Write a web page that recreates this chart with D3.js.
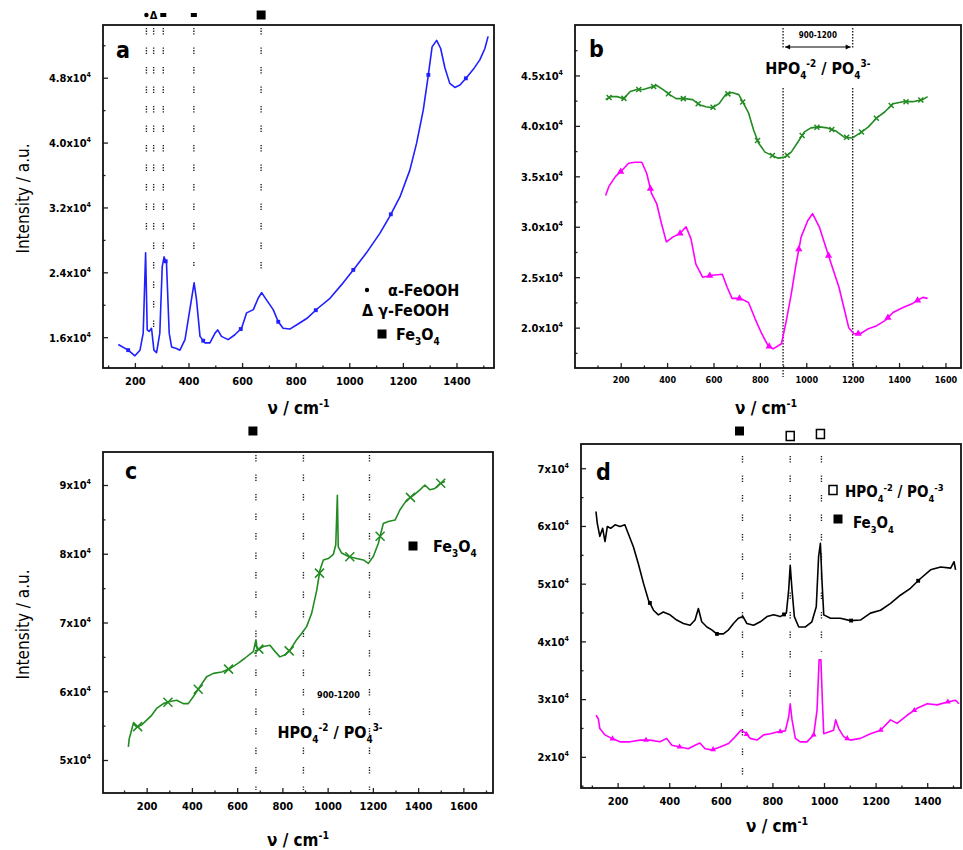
<!DOCTYPE html>
<html>
<head>
<meta charset="utf-8">
<script src="https://cdn.jsdelivr.net/npm/d3@7"></script>
<style>
body { margin: 0; background: #fff; }
text { font-family: "DejaVu Sans Condensed", "Liberation Sans Narrow", "DejaVu Sans", sans-serif; font-weight: bold; fill: #000; }
</style>
</head>
<body>
<svg id="fig" width="963" height="850"></svg>
<script>
// spectra as [wavenumber, intensity]
var specA = [[138,1.51],[175,1.44],[200,1.37],[219,1.44],[231,1.65],[240,2.64],[246,1.69],[253,1.67],[262,1.71],[271,1.44],
  [281,1.41],[293,1.65],[302,2.47],[309,2.59],[318,2.51],[328,1.65],[337,1.48],[355,1.46],[368,1.44],[387,1.57],[405,1.94],
  [421,2.27],[430,2.06],[443,1.61],[461,1.53],[480,1.53],[499,1.65],[509,1.69],[523,1.61],[548,1.57],[573,1.63],[598,1.71],
  [617,1.90],[642,1.94],[660,2.08],[673,2.15],[691,2.06],[716,1.94],[735,1.79],[753,1.71],[778,1.70],[803,1.75],[841,1.83],
  [884,1.96],[928,2.08],[977,2.27],[1015,2.43],[1064,2.64],[1114,2.88],[1151,3.09],[1189,3.33],[1226,3.66],[1251,3.99],
  [1276,4.40],[1294,4.81],[1309,5.18],[1326,5.26],[1341,5.16],[1357,4.92],[1375,4.73],[1394,4.68],[1413,4.71],[1437,4.80],
  [1462,4.90],[1487,5.02],[1506,5.16],[1518,5.31]];

var specBgreen = [[135,4.26],[156,4.29],[185,4.29],[213,4.27],[241,4.34],[270,4.36],[298,4.36],[326,4.38],[355,4.40],[383,4.36],
  [411,4.31],[439,4.27],[475,4.27],[510,4.26],[539,4.21],[567,4.19],[595,4.18],[624,4.22],[652,4.31],[680,4.33],[709,4.31],
  [730,4.22],[751,4.13],[773,3.96],[794,3.83],[822,3.74],[850,3.71],[879,3.68],[907,3.69],[935,3.74],[964,3.84],[992,3.94],
  [1020,3.98],[1056,3.99],[1091,3.98],[1127,3.95],[1162,3.89],[1198,3.88],[1233,3.93],[1268,3.99],[1304,4.08],[1339,4.14],
  [1374,4.22],[1417,4.24],[1459,4.24],[1502,4.26],[1523,4.29]];

var specBmagenta = [[135,3.31],[149,3.40],[178,3.50],[206,3.56],[234,3.63],[262,3.64],[291,3.64],[312,3.53],[333,3.33],[355,3.23],
  [376,3.03],[397,2.85],[426,2.90],[454,2.93],[482,3.00],[503,2.88],[524,2.63],[553,2.50],[595,2.52],[638,2.53],[659,2.40],
  [680,2.29],[716,2.29],[751,2.25],[779,2.09],[808,1.94],[836,1.82],[857,1.79],[893,1.84],[914,2.07],[935,2.33],[956,2.63],
  [978,2.90],[1006,3.06],[1027,3.13],[1056,3.00],[1084,2.80],[1112,2.60],[1141,2.40],[1162,2.20],[1183,2.00],[1205,1.94],
  [1233,1.94],[1268,1.99],[1304,2.02],[1339,2.07],[1374,2.15],[1417,2.20],[1459,2.24],[1502,2.30],[1523,2.29]];

var specC = [[119,5.19],[123,5.31],[141,5.53],[156,5.48],[178,5.51],[200,5.58],[222,5.65],[244,5.75],[274,5.82],[303,5.85],
  [333,5.87],[362,5.82],[384,5.82],[406,5.92],[436,6.07],[465,6.21],[495,6.26],[532,6.28],[568,6.33],[605,6.41],[634,6.48],
  [672,6.58],[683,6.75],[689,6.60],[716,6.65],[745,6.67],[767,6.58],[789,6.50],[812,6.53],[834,6.60],[863,6.75],[885,6.84],
  [907,6.94],[929,7.13],[952,7.47],[966,7.76],[981,7.91],[1003,7.93],[1025,7.99],[1036,8.13],[1043,8.85],[1047,8.10],
  [1062,8.01],[1092,7.96],[1128,7.93],[1158,7.91],[1180,7.86],[1202,7.96],[1224,8.15],[1246,8.44],[1268,8.47],[1298,8.49],
  [1320,8.64],[1349,8.78],[1379,8.85],[1408,8.93],[1430,9.00],[1452,8.93],[1474,8.95],[1497,9.02],[1519,9.05]];

var specDblack = [[116,6.25],[121,6.05],[131,5.82],[142,5.96],[151,5.73],[160,5.99],[173,5.96],[190,6.02],[209,5.99],[228,6.02],
  [241,5.87],[261,5.64],[280,5.35],[300,5.01],[319,4.72],[339,4.54],[358,4.46],[377,4.51],[403,4.46],[429,4.37],[455,4.31],
  [481,4.28],[500,4.37],[513,4.57],[526,4.34],[546,4.25],[565,4.20],[584,4.13],[610,4.13],[630,4.20],[649,4.31],[668,4.40],
  [686,4.43],[701,4.31],[727,4.28],[753,4.34],[779,4.43],[805,4.46],[830,4.43],[854,4.49],[863,4.89],[869,5.32],[876,4.89],
  [885,4.43],[902,4.25],[928,4.25],[953,4.34],[970,4.60],[979,5.47],[986,5.70],[992,5.06],[999,4.46],[1025,4.40],[1063,4.40],
  [1102,4.36],[1141,4.37],[1180,4.49],[1219,4.54],[1258,4.66],[1296,4.80],[1335,4.92],[1374,5.09],[1413,5.24],[1452,5.29],
  [1491,5.27],[1504,5.38],[1510,5.24]];

var specDmagenta = [[116,2.72],[125,2.66],[131,2.49],[151,2.38],[177,2.32],[209,2.26],[248,2.26],[287,2.29],[326,2.29],[364,2.26],
  [390,2.32],[410,2.20],[442,2.17],[474,2.14],[500,2.20],[519,2.24],[539,2.14],[565,2.12],[597,2.17],[630,2.23],[656,2.35],
  [678,2.46],[694,2.42],[714,2.32],[740,2.29],[766,2.38],[792,2.40],[818,2.43],[850,2.45],[863,2.69],[869,2.92],[876,2.64],
  [889,2.32],[908,2.26],[934,2.26],[960,2.38],[973,2.81],[981,3.68],[988,3.68],[994,2.92],[999,2.40],[1018,2.43],[1037,2.46],
  [1045,2.64],[1057,2.49],[1076,2.35],[1102,2.29],[1141,2.32],[1180,2.40],[1219,2.46],[1258,2.64],[1283,2.58],[1322,2.72],
  [1361,2.84],[1400,2.92],[1439,2.90],[1478,2.95],[1510,2.98],[1523,2.92]];

// tick values
var ticksXa = [200, 400, 600, 800, 1000, 1200, 1400];
var ticksXb = [200, 400, 600, 800, 1000, 1200, 1400, 1600];
var ticksYa = [1.6, 2.4, 3.2, 4.0, 4.8];
var ticksYb = [2.0, 2.5, 3.0, 3.5, 4.0, 4.5];
var ticksYc = [5, 6, 7, 8, 9];
var ticksYd = [2, 3, 4, 5, 6, 7];

// assigned bands: [wavenumber, top intensity, bottom intensity, symbol]
var bandsA = [[243, 5.45, 2.80, 'dot'], [270, 5.45, 1.71, 'tri'], [306, 5.45, 2.64, 'bar'], [420, 5.45, 2.47, 'bar'], [671, 5.45, 2.31, 'sq']];
var bandsB = [900, 1200];
var bandsC = [683, 893, 1185];
var bandsD = [[684, 7.42, 1.46, 'sq'], [869, 7.42, 2.85, 'open'], [990, 7.42, 3.82, 'open']];

var svg = d3.select('#fig');

function interp(series, wn) {
    var i = d3.bisector(function (d) { return d[0]; }).left(series, wn);
    if (i <= 0) return series[0][1];
    if (i >= series.length) return series[series.length - 1][1];
    var a = series[i - 1], b = series[i];
    return a[1] + (b[1] - a[1]) * (wn - a[0]) / (b[0] - a[0]);
}

// text with sub / superscripts, parts = [[str, 'sub'|'sup'|null], ...]
function rich(g, x, y, parts, size, anchor) {
    var t = g.append('text').attr('x', x).attr('y', y).attr('font-size', size)
        .attr('text-anchor', anchor || 'start');
    var cur = 0;
    parts.forEach(function (p) {
        var off = p[1] === 'sub' ? size * 0.3 : p[1] === 'sup' ? -size * 0.42 : 0;
        t.append('tspan').attr('dy', off - cur).attr('font-size', p[1] ? size * 0.62 : size).text(p[0]);
        cur = off;
    });
    return t;
}

function panel(cfg) {
    var x = d3.scaleLinear().domain(cfg.xDom).range([cfg.left, cfg.right]);
    var y = d3.scaleLinear().domain(cfg.yDom).range([cfg.bottom, cfg.top]);
    var g = svg.append('g');

    // minor ticks
    var xMinor = d3.range(100, cfg.xDom[1], 100).filter(function (v) { return v > cfg.xDom[0] && cfg.xTicks.indexOf(v) < 0; });
    var yMinor = cfg.yTicks.map(function (v) { return v + cfg.yStep / 2; })
        .concat([cfg.yTicks[0] - cfg.yStep / 2])
        .filter(function (v) { return v > cfg.yDom[0] && v < cfg.yDom[1]; });
    g.append('g').attr('transform', 'translate(0,' + cfg.bottom + ')')
        .call(d3.axisBottom(x).tickValues(xMinor).tickSize(-2.5).tickFormat(''));
    g.append('g').attr('transform', 'translate(' + cfg.left + ',0)')
        .call(d3.axisLeft(y).tickValues(yMinor).tickSize(-2.5).tickFormat(''));

    // major ticks
    var xa = g.append('g').attr('transform', 'translate(0,' + cfg.bottom + ')')
        .call(d3.axisBottom(x).tickValues(cfg.xTicks).tickSize(-5).tickPadding(9).tickFormat(d3.format('d')));
    xa.selectAll('text').attr('font-size', cfg.xFont).attr('font-family', null);
    var ya = g.append('g').attr('transform', 'translate(' + cfg.left + ',0)')
        .call(d3.axisLeft(y).tickValues(cfg.yTicks).tickSize(-5).tickPadding(12).tickFormat(''));
    ya.selectAll('.tick text').each(function (d) {
        var t = d3.select(this).attr('font-size', 11).attr('font-family', null).attr('dy', '0.35em');
        t.append('tspan').text(d3.format(cfg.yFmt)(d) + 'x10');
        t.append('tspan').attr('dy', -5).attr('font-size', 7).text('4');
    });
    g.selectAll('.domain').remove();
    g.selectAll('.tick line').attr('stroke', '#222').attr('stroke-width', 1.3);

    // frame
    g.append('rect').attr('x', cfg.left).attr('y', cfg.top)
        .attr('width', cfg.right - cfg.left).attr('height', cfg.bottom - cfg.top)
        .attr('fill', 'none').attr('stroke', '#111').attr('stroke-width', 1.8);

    // panel letter
    g.append('text').attr('x', cfg.left + cfg.letterDx).attr('y', cfg.top + cfg.letterDy)
        .attr('font-size', 23).text(cfg.letter);

    // axis title
    rich(g, (cfg.left + cfg.right) / 2 + cfg.titleDx, cfg.titleY, [['\u03bd / cm', null], ['-1', 'sup']], 17, 'middle');
    if (cfg.yTitle) {
        g.append('text').attr('transform', 'translate(' + (cfg.left - 74) + ',' + ((cfg.top + cfg.bottom) / 2 + 2) + ') rotate(-90)')
            .attr('text-anchor', 'middle').attr('font-size', 17)
            .style('font-weight', 'normal').text('Intensity / a.u.');
    }
    return { g: g, x: x, y: y };
}

function drawSeries(p, series, color, sym, step, start, size) {
    var line = d3.line().x(function (d) { return p.x(d[0]); }).y(function (d) { return p.y(d[1]); });
    p.g.append('path').datum(series).attr('d', line)
        .attr('fill', 'none').attr('stroke', color).attr('stroke-width', 1.6).attr('stroke-linejoin', 'round');
    var last = series[series.length - 1][0];
    var marks = d3.range(start, last + 1, step).map(function (w) { return [w, interp(series, w)]; });
    var m = p.g.append('g').selectAll('g').data(marks).join('g')
        .attr('transform', function (d) { return 'translate(' + p.x(d[0]) + ',' + p.y(d[1]) + ')'; });
    if (sym === 'x') {
        m.append('path').attr('d', 'M' + (-size) + ',' + (-size) + 'L' + size + ',' + size + 'M' + (-size) + ',' + size + 'L' + size + ',' + (-size))
            .attr('stroke', color).attr('stroke-width', 1.5);
    } else {
        var type = sym === 'tri' ? d3.symbolTriangle : d3.symbolSquare;
        m.append('path').attr('d', d3.symbol().type(type).size(size * size * 2.2)).attr('fill', color);
    }
}

var dots = '1.3,1.3,1.3,1.3,1.3,13';

function bandLine(p, wn, y0, y1, dash) {
    p.g.append('line').attr('x1', p.x(wn)).attr('x2', p.x(wn)).attr('y1', y0).attr('y2', y1)
        .attr('stroke', '#222').attr('stroke-width', 1.4).attr('stroke-dasharray', dash);
}

function topSymbol(g, kind, cx, cy) {
    if (kind === 'dot') g.append('circle').attr('cx', cx).attr('cy', cy).attr('r', 2.2).attr('fill', '#000');
    else if (kind === 'tri') g.append('text').attr('x', cx).attr('y', cy + 4).attr('font-size', 11).attr('text-anchor', 'middle').text('\u0394');
    else if (kind === 'bar') g.append('rect').attr('x', cx - 3).attr('y', cy - 2).attr('width', 6).attr('height', 4).attr('fill', '#000');
    else if (kind === 'sq') g.append('rect').attr('x', cx - 4.5).attr('y', cy - 4.5).attr('width', 9).attr('height', 9).attr('fill', '#000');
    else if (kind === 'open') g.append('rect').attr('x', cx - 4).attr('y', cy - 4.5).attr('width', 8).attr('height', 9)
        .attr('fill', 'none').attr('stroke', '#000').attr('stroke-width', 1.5);
}

// ---- panel a
var pa = panel({ left: 103, right: 494, top: 25, bottom: 368, xDom: [81, 1540], yDom: [1.22, 5.45],
    xTicks: ticksXa, yTicks: ticksYa, yStep: 0.8, yFmt: '.1f', xFont: 11, letter: 'a', letterDx: 13, letterDy: 33,
    titleDx: 0, titleY: 414, yTitle: true });
bandsA.forEach(function (b) {
    bandLine(pa, b[0], pa.y(b[1]) + 3, pa.y(b[2]), dots);
    topSymbol(pa.g, b[3], pa.x(b[0]), 15);
});
drawSeries(pa, specA, '#1f1fff', 'sq', 140, 175, 2.6);
topSymbol(pa.g, 'dot', 367, 290);
topSymbol(pa.g, 'sq', 382, 334);
pa.g.append('text').attr('x', 388).attr('y', 296).attr('font-size', 16).text('\u03b1-FeOOH');
pa.g.append('text').attr('x', 362).attr('y', 316).attr('font-size', 16).text('\u0394 \u03b3-FeOOH');
rich(pa.g, 396, 340, [['Fe', null], ['3', 'sub'], ['O', null], ['4', 'sub']], 16);

// ---- panel b
var pb = panel({ left: 575, right: 961, top: 25, bottom: 368, xDom: [3, 1667], yDom: [1.6, 5.0],
    xTicks: ticksXb, yTicks: ticksYb, yStep: 0.5, yFmt: '.1f', xFont: 9, letter: 'b', letterDx: 14, letterDy: 32,
    titleDx: -2, titleY: 414, yTitle: false });
bandsB.forEach(function (w, i) {
    bandLine(pb, w, 88, i === 0 ? 377 : 368, '1.5,1.5');
    bandLine(pb, w, 28, 49, '1.5,1.5');
});
var bx0 = pb.x(bandsB[0]), bx1 = pb.x(bandsB[1]);
pb.g.append('line').attr('x1', bx0 + 2).attr('x2', bx1 - 2).attr('y1', 47).attr('y2', 47).attr('stroke', '#000').attr('stroke-width', 1.2);
pb.g.append('path').attr('d', 'M' + (bx0 + 2) + ',47l5,-2.5v5z M' + (bx1 - 2) + ',47l-5,-2.5v5z').attr('fill', '#000');
pb.g.append('text').attr('x', (bx0 + bx1) / 2).attr('y', 38).attr('font-size', 8).attr('text-anchor', 'middle').text('900-1200');
rich(pb.g, (bx0 + bx1) / 2, 74, [['HPO', null], ['4', 'sub'], ['-2', 'sup'], [' / PO', null], ['4', 'sub'], ['3-', 'sup']], 16, 'middle');
drawSeries(pb, specBgreen, '#228b22', 'x', 64, 150, 2.5);
drawSeries(pb, specBmagenta, '#ff00ff', 'tri', 128, 200, 3.2);

// ---- panel c
var pc = panel({ left: 103, right: 493, top: 452, bottom: 793, xDom: [7, 1731], yDom: [4.52, 9.48],
    xTicks: ticksXb, yTicks: ticksYc, yStep: 1, yFmt: 'd', xFont: 11, letter: 'c', letterDx: 22, letterDy: 27,
    titleDx: 0, titleY: 846, yTitle: true });
bandsC.forEach(function (w) { bandLine(pc, w, 455, 790, dots); });
topSymbol(pc.g, 'sq', pc.x(bandsC[0]) - 3, 431);
topSymbol(pc.g, 'sq', 413, 546);
rich(pc.g, 433, 552, [['Fe', null], ['3', 'sub'], ['O', null], ['4', 'sub']], 16);
pc.g.append('text').attr('x', (pc.x(bandsC[1]) + pc.x(bandsC[2])) / 2 + 2).attr('y', 698).attr('font-size', 9).attr('text-anchor', 'middle').text('900-1200');
rich(pc.g, 330, 738, [['HPO', null], ['4', 'sub'], ['-2', 'sup'], [' / PO', null], ['4', 'sub'], ['3-', 'sup']], 16, 'middle');
drawSeries(pc, specC, '#228b22', 'x', 134, 160, 4.5);

// ---- panel d
var pd = panel({ left: 581, right: 961, top: 444, bottom: 788, xDom: [58, 1531], yDom: [1.46, 7.42],
    xTicks: ticksXa, yTicks: ticksYd, yStep: 1, yFmt: 'd', xFont: 11, letter: 'd', letterDx: 15, letterDy: 36,
    titleDx: 6, titleY: 832, yTitle: false });
bandsD.forEach(function (b) {
    bandLine(pd, b[0], pd.y(b[1]) + 12, pd.y(b[2]), dots);
});
topSymbol(pd.g, 'sq', pd.x(bandsD[0][0]) - 3, 431);
topSymbol(pd.g, 'open', pd.x(bandsD[1][0]), 436);
topSymbol(pd.g, 'open', pd.x(bandsD[2][0]) - 1, 434);
topSymbol(pd.g, 'open', 833, 490);
topSymbol(pd.g, 'sq', 838, 519);
rich(pd.g, 845, 497, [['HPO', null], ['4', 'sub'], ['-2', 'sup'], [' / PO', null], ['4', 'sub'], ['-3', 'sup']], 15);
rich(pd.g, 853, 528, [['Fe', null], ['3', 'sub'], ['O', null], ['4', 'sub']], 15);
drawSeries(pd, specDblack, '#000', 'sq', 260, 325, 2.6);
drawSeries(pd, specDmagenta, '#ff00ff', 'tri', 130, 180, 2.6);
</script>
</body>
</html>
